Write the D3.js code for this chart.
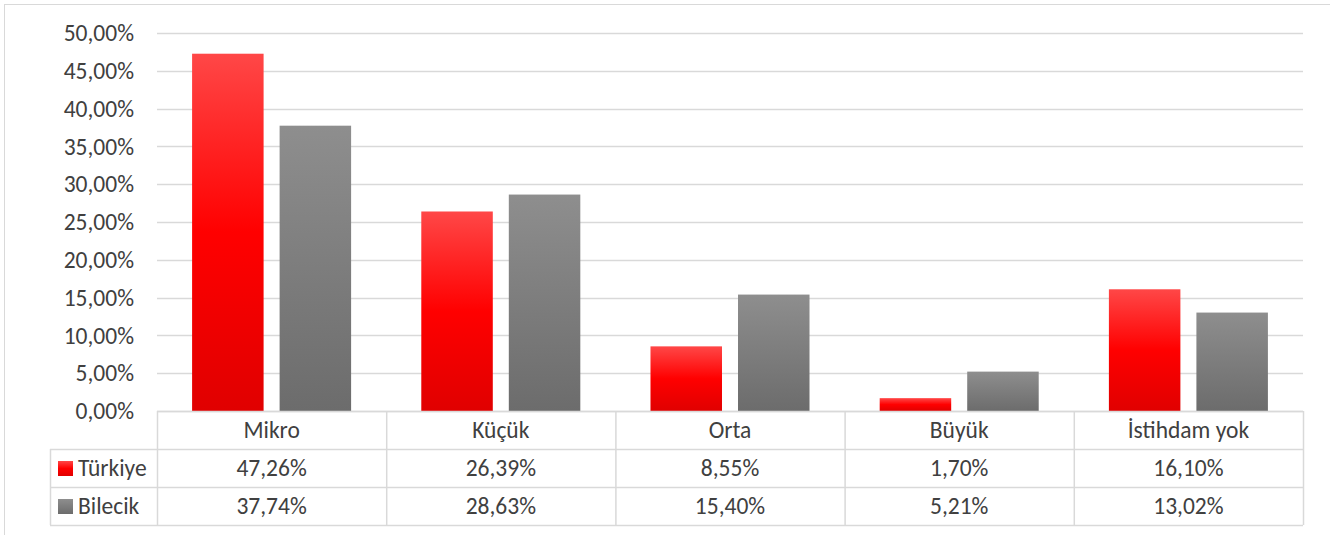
<!DOCTYPE html>
<html>
<head>
<meta charset="utf-8">
<script src="https://cdn.jsdelivr.net/npm/d3@7"></script>
<style>
  body { margin: 0; background: #fff; }
  text { font-family: Carlito, "Open Sans", "Noto Sans", sans-serif; fill: #404040; }
</style>
</head>
<body>
<div id="chart"></div>
<script>
var categories = ["Mikro", "Küçük", "Orta", "Büyük", "İstihdam yok"];
var seriesNames = ["Türkiye", "Bilecik"];
var turkiye = [47.26, 26.39, 8.55, 1.70, 16.10];
var bilecik = [37.74, 28.63, 15.40, 5.21, 13.02];
var yTicks = [0, 5, 10, 15, 20, 25, 30, 35, 40, 45, 50];

var svgWidth = 1330;
var svgHeight = 535;

var plot = { left: 157, right: 1303, top: 33, bottom: 411 };
var rowH = 38;
var legendLeft = 50;
var fontSize = "23.5px";

var svg = d3.select("#chart")
    .append("svg")
    .attr("width", svgWidth)
    .attr("height", svgHeight);

// outer chart border
svg.append("rect")
    .attr("x", 4.5).attr("y", 4.5)
    .attr("width", 1340).attr("height", 540)
    .attr("fill", "none")
    .attr("stroke", "#d9d9d9");

var defs = svg.append("defs");
function grad(id, stops) {
    var g = defs.append("linearGradient").attr("id", id)
        .attr("x1", 0).attr("y1", 0).attr("x2", 0).attr("y2", 1);
    stops.forEach(function(s) {
        g.append("stop").attr("offset", s[0]).attr("stop-color", s[1]);
    });
}
grad("gRed", [["0%", "#ff4747"], ["50%", "#ff0000"], ["100%", "#e00000"]]);
grad("gGray", [["0%", "#8e8e8e"], ["100%", "#6c6c6c"]]);
var fills = ["url(#gRed)", "url(#gGray)"];

var x0 = d3.scaleBand()
    .domain(categories)
    .range([plot.left, plot.right]);

var x1 = d3.scaleBand()
    .domain(seriesNames)
    .range([0, x0.bandwidth()])
    .paddingInner(0.183)
    .paddingOuter(0.401);

var y = d3.scaleLinear()
    .domain([0, 50])
    .range([plot.bottom, plot.top]);

// gridlines
svg.append("g").selectAll("line")
    .data(yTicks)
    .enter()
    .append("line")
    .attr("x1", plot.left)
    .attr("x2", plot.right)
    .attr("y1", d => Math.round(y(d)) + 0.5)
    .attr("y2", d => Math.round(y(d)) + 0.5)
    .attr("stroke", "#d9d9d9")
    .attr("stroke-width", 1.5);

// y labels
var fmt = d => d3.format(".2f")(d).replace(".", ",") + "%";
svg.append("g").selectAll("text")
    .data(yTicks)
    .enter()
    .append("text")
    .attr("x", 134)
    .attr("y", d => y(d))
    .attr("dy", "0.35em")
    .attr("text-anchor", "end")
    .attr("font-size", fontSize)
    .text(fmt);

// bars
var allSeries = [turkiye, bilecik];
seriesNames.forEach(function(name, si) {
    svg.append("g").selectAll("rect")
        .data(allSeries[si])
        .enter()
        .append("rect")
        .attr("x", (d, i) => x0(categories[i]) + x1(name))
        .attr("width", x1.bandwidth())
        .attr("y", d => y(d))
        .attr("height", d => y(0) - y(d))
        .attr("fill", fills[si]);
});

// data table
var table = svg.append("g");
var lineColor = "#d9d9d9";
var bottom = plot.bottom + rowH * 3;

// horizontal lines
[plot.bottom, plot.bottom + rowH, plot.bottom + rowH * 2, bottom].forEach(function(yy, i) {
    table.append("line")
        .attr("x1", i === 0 ? plot.left : legendLeft)
        .attr("x2", plot.right)
        .attr("y1", yy + 0.5).attr("y2", yy + 0.5)
        .attr("stroke", lineColor).attr("stroke-width", 1.5);
});
// vertical lines
table.append("line")
    .attr("x1", legendLeft + 0.5).attr("x2", legendLeft + 0.5)
    .attr("y1", plot.bottom + rowH).attr("y2", bottom)
    .attr("stroke", lineColor).attr("stroke-width", 1.5);
categories.concat(["end"]).forEach(function(c, i) {
    var xx = i < categories.length ? x0(c) : plot.right;
    table.append("line")
        .attr("x1", xx + 0.5).attr("x2", xx + 0.5)
        .attr("y1", plot.bottom).attr("y2", bottom)
        .attr("stroke", lineColor).attr("stroke-width", 1.5);
});

// category header
table.selectAll(".cat")
    .data(categories)
    .enter()
    .append("text")
    .attr("x", d => x0(d) + x0.bandwidth() / 2)
    .attr("y", plot.bottom + rowH / 2)
    .attr("dy", "0.35em")
    .attr("text-anchor", "middle")
    .attr("font-size", fontSize)
    .text(d => d);

// rows
var pct = d => d3.format(".2f")(d).replace(".", ",") + "%";
seriesNames.forEach(function(name, si) {
    var cy = plot.bottom + rowH * (si + 1) + rowH / 2;
    table.append("rect")
        .attr("x", 58).attr("y", cy - 7)
        .attr("width", 15).attr("height", 15)
        .attr("fill", fills[si]);
    table.append("text")
        .attr("x", 78).attr("y", cy)
        .attr("dy", "0.35em")
        .attr("font-size", fontSize)
        .text(name);
    table.append("g").selectAll("text")
        .data(allSeries[si])
        .enter()
        .append("text")
        .attr("x", (d, i) => x0(categories[i]) + x0.bandwidth() / 2)
        .attr("y", cy)
        .attr("dy", "0.35em")
        .attr("text-anchor", "middle")
        .attr("font-size", fontSize)
        .text(pct);
});
</script>
</body>
</html>
